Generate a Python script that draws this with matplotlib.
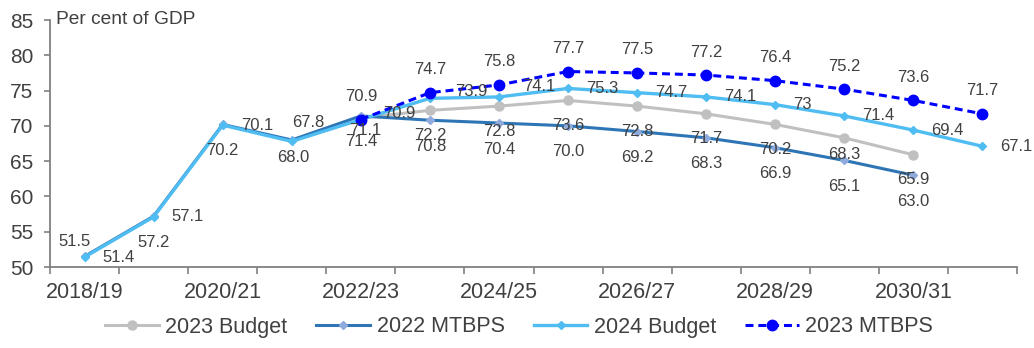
import matplotlib
matplotlib.use("Agg")
import matplotlib.pyplot as plt
import numpy as np

# Fiscal years on the category axis
years = ["2018/19", "2019/20", "2020/21", "2021/22", "2022/23", "2023/24", "2024/25",
         "2025/26", "2026/27", "2027/28", "2028/29", "2029/30", "2030/31", "2031/32"]
tick_years = ["2018/19", "2020/21", "2022/23", "2024/25", "2026/27", "2028/29", "2030/31"]

# Gross loan debt, per cent of GDP
budget_2023 = [None, None, None, None, 71.1, 72.2, 72.8, 73.6, 72.8, 71.7, 70.2, 68.3, 65.9, None]
mtbps_2022 = [51.5, 57.2, 70.2, 68.0, 71.4, 70.8, 70.4, 70.0, 69.2, 68.3, 66.9, 65.1, 63.0, None]
budget_2024 = [51.4, 57.1, 70.1, 67.8, 70.9, 73.9, 74.1, 75.3, 74.7, 74.1, 73.0, 71.4, 69.4, 67.1]
mtbps_2023 = [None, None, None, None, 70.9, 74.7, 75.8, 77.7, 77.5, 77.2, 76.4, 75.2, 73.6, 71.7]

plt.rcParams["font.family"] = ["Liberation Sans", "DejaVu Sans"]
TXT = "#404040"

fig = plt.figure(figsize=(10.34, 3.48), dpi=100)
ax = fig.add_axes([50 / 1034, 1 - 267 / 348, 967 / 1034, 247 / 348])


def series(vals):
    xs = np.array([i for i, v in enumerate(vals) if v is not None])
    ys = np.array([v for v in vals if v is not None])
    return xs, ys


PX = 0.72  # pixels -> points at 100 dpi


def label_points(vals, fmt, dx, dy, ha, overrides=None):
    overrides = overrides or {}
    for i, v in enumerate(vals):
        if v is None:
            continue
        ox, oy, h = overrides.get(i, (dx, dy, ha))
        ax.annotate(format(v, fmt), (i, v), xytext=(ox * PX, -oy * PX),
                    textcoords="offset points", ha=h, va="center",
                    fontsize=12, color=TXT, zorder=10)


xs, ys = series(budget_2023)
ax.plot(xs, ys, color="#C0C0C0", lw=2.2, marker="o", ms=6.5, zorder=2,
        label="2023 Budget")
xs, ys = series(mtbps_2022)
ax.plot(xs, ys, color="#2E75B6", lw=2.2, marker="D", ms=4.5,
        markerfacecolor="#8FAADC", markeredgecolor="#8FAADC", zorder=3,
        label="2022 MTBPS")
xs, ys = series(budget_2024)
ax.plot(xs, ys, color="#4FBDF2", lw=2.4, marker="D", ms=4.5, zorder=4,
        label="2024 Budget")
xs, ys = series(mtbps_2023)
ax.plot(xs, ys, color="#0000FF", lw=2.2, dashes=(2.6, 1.6), marker="o", ms=7.5,
        zorder=5, label="2023 MTBPS")

# Data labels
label_points(budget_2023, ".1f", 0, 25, "center", {4: (4, 12, "center"), 11: (0, 17, "center")})
label_points(mtbps_2022, ".1f", 0, 26, "center", {0: (-10, -15, "center"), 3: (2, 18, "center")})
label_points(budget_2024, "g", 18, 0, "left",
             {3: (0, -19, "left"), 4: (22, -6, "left"), 5: (25, -7, "left"), 6: (24, -10, "left")})
label_points(mtbps_2023, ".1f", 0, -23, "center")

ax.set_xlim(-0.5, len(years) - 0.5)
ax.set_ylim(50, 85)
ax.set_yticks(np.arange(50, 86, 5))

# Tick marks on category boundaries, labels centred on every second year
ax.set_xticks(np.arange(-0.5, len(years), 1.0))
ax.set_xticklabels([])
ax.set_xticks([years.index(t) for t in tick_years], minor=True)
ax.set_xticklabels(tick_years, minor=True)
ax.tick_params(axis="x", which="minor", length=0, pad=11, labelsize=15.5, labelcolor=TXT)
ax.tick_params(axis="x", which="major", length=5, width=1.2, color="#808080", direction="out")
ax.tick_params(axis="y", length=4, width=1.2, color="#808080", pad=8, labelsize=15,
               labelcolor=TXT)

for side in ("top", "right"):
    ax.spines[side].set_visible(False)
for side in ("left", "bottom"):
    ax.spines[side].set_color("#808080")
    ax.spines[side].set_linewidth(1.3)

ax.text(0.006, 1.0, "Per cent of GDP", transform=ax.transAxes, ha="left", va="center",
        fontsize=13.8, color=TXT)

fig.legend(loc="center", bbox_to_anchor=(0.502, 1 - 327 / 348), ncol=4, frameon=False,
           fontsize=15.5, handlelength=2.5, handletextpad=0.3, columnspacing=1.35,
           labelcolor=TXT)

fig.savefig("out.png", dpi=100)
